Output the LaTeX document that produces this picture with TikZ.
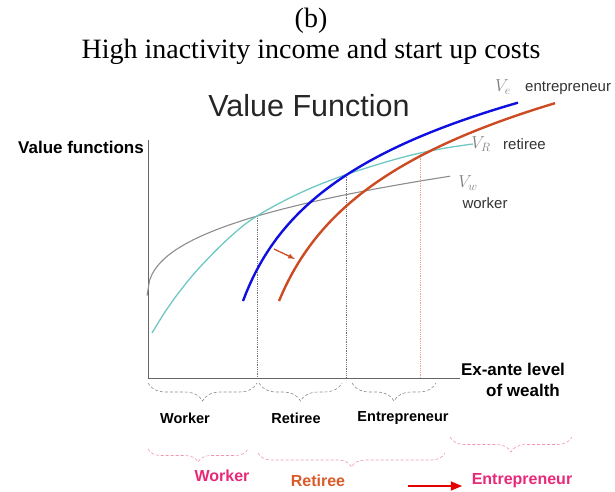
\documentclass[tikz,border=0pt]{standalone}
\usepackage{fontspec}
\setmainfont{Liberation Serif}
\setsansfont{Liberation Sans}
\usepackage{amsmath}
\usetikzlibrary{arrows,decorations.pathreplacing}

\definecolor{entblue}{RGB}{15,15,225}
\definecolor{entred}{RGB}{205,75,35}
\definecolor{retteal}{RGB}{110,200,195}
\definecolor{wrkgray}{RGB}{140,140,140}
\definecolor{lblpink}{RGB}{232,40,120}
\definecolor{lblorange}{RGB}{218,90,40}
\definecolor{bracepink}{RGB}{240,150,170}

\begin{document}
\begin{tikzpicture}[x=1pt,y=-1pt,
	ttl/.style={font=\fontsize{28}{28}\selectfont,inner sep=0pt},
	axlbl/.style={font=\sffamily\bfseries\fontsize{17}{17}\selectfont,inner sep=0pt},
	crv/.style={font=\sffamily\fontsize{15}{15}\selectfont,text=black!80,inner sep=0pt},
	vsym/.style={text=black!50,inner sep=0pt,font=\fontsize{17}{17}\selectfont},
	grp/.style={font=\sffamily\bfseries\fontsize{14.5}{14.5}\selectfont,inner sep=0pt},
	job/.style={font=\sffamily\bfseries\fontsize{16}{16}\selectfont,inner sep=0pt},
	brc/.style={decorate,decoration={brace,mirror,amplitude=#1},black!45,densely dashed,line width=0.6pt},
	pbrc/.style={decorate,decoration={brace,mirror,amplitude=#1},bracepink,densely dashed,line width=0.6pt},
	drop/.style={densely dotted,line width=0.8pt}]
	\useasboundingbox (0,0) rectangle (615,491);

	\node[ttl,anchor=base] (ttlb) at (311,27) {(b)};
	\node[ttl,anchor=base] (ttlh) at (311,58) {High inactivity income and start up costs};
	\node[font=\sffamily\fontsize{30.5}{30.5}\selectfont,inner sep=0pt,anchor=base,text=black!85] (vfn) at (309,116) {Value Function};

	\node[axlbl,anchor=east] (ylab) at (144,147) {Value functions};
	\node[axlbl] (xlab1) at (513,369) {Ex-ante level};
	\node[axlbl] (xlab2) at (523,390) {of wealth};

	\draw[black!60,line width=0.8pt] (148,140) -- (148,378) -- (460,378);

	\draw[drop,black!55] (257,216) -- (257,378);
	\draw[drop,black!55] (346,175) -- (346,378);
	\draw[drop,entred!50] (420,154) -- (420,378);

	\draw[wrkgray,line width=1.1pt] plot[domain=0.05:303,samples=120] ({147+\x},{300-13.8*(\x)^0.384});
	\draw[retteal,line width=1.3pt] plot[smooth,tension=0.6] coordinates {(152,333) (165,312) (180,291) (200,267) (230,237) (257,216) (300,193) (345,175) (400,158) (440,149) (473,144)};
	\draw[entblue,line width=2.4pt] plot[domain=243:518,samples=90] (\x,{301-88.8*ln((\x-210)/33)});
	\draw[entred,line width=2.4pt] plot[domain=279:555,samples=90] (\x,{301-94.7*ln((\x-240)/39)});

	\coordinate (sh1) at (274,249);
	\coordinate (sh2) at (295,259);
	\draw[entred,line width=1.3pt,-latex] (sh1) -- (sh2);

	\node[vsym] (ve) at (503,87) {$V_e$};
	\node[crv,anchor=west] (vet) at (525,88) {entrepreneur};
	\node[vsym] (vr) at (481,144) {$V_R$};
	\node[crv,anchor=west] (vrt) at (503,144) {retiree};
	\node[vsym] (vw) at (468,183) {$V_w$};
	\node[crv] (vwt) at (485,203) {worker};

	\draw[brc=18pt] (148,383) -- (257,383);
	\draw[brc=18pt] (259,383) -- (342,383);
	\draw[brc=18pt] (352,383) -- (436,383);
	\node[grp] (gw) at (185,418) {Worker};
	\node[grp] (gr) at (296,418) {Retiree};
	\node[grp] (ge) at (403,418) {Entrepreneur};

	\draw[pbrc=13pt] (148,449) -- (248,449);
	\draw[pbrc=14pt] (258,453) -- (445,453);
	\draw[pbrc=15pt] (450,437) -- (572,437);
	\node[job,text=lblpink] (jw) at (222,476) {Worker};
	\node[job,text=lblorange] (jr) at (318,481) {Retiree};
	\node[job,text=lblpink] (je) at (522,481) {Entrepreneur};
	\coordinate (mv1) at (408,486);
	\coordinate (mv2) at (462,486);
	\draw[red!90!black,line width=1.6pt,-triangle 45] (mv1) -- (mv2);
\end{tikzpicture}
\end{document}
